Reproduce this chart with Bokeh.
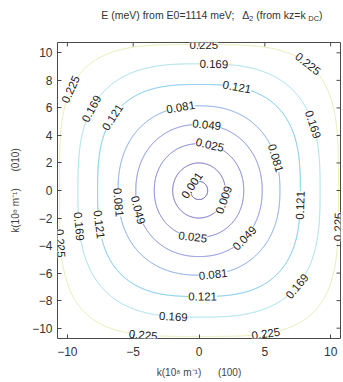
import numpy as np
from bokeh.plotting import figure
from bokeh.layouts import column
from bokeh.models import Range1d, FixedTicker, ColumnDataSource
from bokeh.embed import file_html
from bokeh.resources import INLINE
from bokeh.core.properties import value

# Energy contour levels (meV above E0) and the contour radii (1e8 m^-1)
# along the (100)/(010) axes and along the diagonals
levels = [0.001, 0.009, 0.025, 0.049, 0.081, 0.121, 0.169, 0.225]
r_axis = [0.66, 2.0, 3.4, 4.8, 6.15, 7.7, 9.2, 10.6]
r_diag = [0.66, 2.0, 3.45, 4.9, 6.4, 8.5, 10.2, 12.4]
line_colors = ["#5048b0", "#6058c0", "#6a6ccc", "#7480d8",
               "#74a0e2", "#66c2e8", "#9ce0e6", "#e4eaae"]

# Inline labels: which contour, and polar angle (deg) of the label on it
label_level = [7, 7, 7, 7, 7, 7, 7,
               6, 6, 6, 6, 6, 6,
               5, 5, 5, 5, 5,
               4, 4, 4, 4,
               3, 3, 3,
               2, 2,
               1,
               0]
label_angle = [88, 48, 143, 200, 346, 248, 296,
               83, 144, 29, 196, 258, 317,
               69, 141, 198, 352, 272,
               103, 22, 188, 280,
               83, 315, 197,
               76, 262,
               340,
               145]

x_ticks = [-10, -5, 0, 5, 10]
y_ticks = [-10, -8, -6, -4, -2, 0, 2, 4, 6, 8, 10]
k_lim = 10.75

W, H = 343, 382
TITLE_H = 28
B_LEFT, B_RIGHT, B_TOP, B_BOTTOM = 57, 3, 14, 44
PH = H - TITLE_H
FW, FH = W - B_LEFT - B_RIGHT, PH - B_TOP - B_BOTTOM


def contour_xy(ra, rd, th):
    # superellipse through the axis radius and the diagonal radius
    n = np.log(2.0) / np.log(np.sqrt(2.0) * ra / rd)
    r = ra * (np.abs(np.cos(th)) ** n + np.abs(np.sin(th)) ** n) ** (-1.0 / n)
    return r * np.cos(th), r * np.sin(th)


# ---- title strip (main text plus subscripts) ----
t = figure(width=W, height=TITLE_H, output_backend="svg", toolbar_location=None,
           x_range=Range1d(0, W), y_range=Range1d(TITLE_H, 0),
           min_border=0, outline_line_color=None)
t.axis.visible = False
t.grid.visible = False
t.background_fill_color = "white"
t.border_fill_color = "white"
title_text = ["E (meV) from E0=1114 meV;", "\u0394", "2", "(from kz=k", "DC", ")"]
title_x = [53, 224, 232, 241, 304, 317]
title_y = [14, 14, 18, 14, 18, 14]
title_size = ["10.5px", "10.5px", "7.5px", "10.5px", "7.5px", "10.5px"]
t.text(x="x", y="y", text="s", text_font_size="fs",
       source=ColumnDataSource(dict(x=title_x, y=title_y, s=title_text, fs=title_size)),
       text_font=value("Liberation Sans"), text_color="#333333",
       text_baseline="middle", text_align="left")

# ---- contour plot ----
p = figure(width=W, height=PH, output_backend="svg", toolbar_location=None,
           x_range=Range1d(-k_lim, k_lim), y_range=Range1d(-k_lim, k_lim),
           min_border_left=B_LEFT, min_border_right=B_RIGHT,
           min_border_top=B_TOP, min_border_bottom=B_BOTTOM)
p.background_fill_color = "white"
p.border_fill_color = "white"
p.outline_line_color = "#4a4a4a"
p.outline_line_width = 1
p.grid.visible = False

theta = np.linspace(0, 2 * np.pi, 1441)
xs, ys = [], []
for ra, rd in zip(r_axis, r_diag):
    cx, cy = contour_xy(ra, rd, theta)
    xs.append(cx)
    ys.append(cy)
p.multi_line(xs="xs", ys="ys", line_color="color", line_width=1,
             source=ColumnDataSource(dict(xs=xs, ys=ys, color=line_colors)))

# contour labels placed along the curves, rotated with the local tangent
sx = FW / (2 * k_lim)
sy = FH / (2 * k_lim)
lx, ly, lang, ltxt = [], [], [], []
for li, ad in zip(label_level, label_angle):
    th = np.radians(ad)
    x0, y0 = contour_xy(r_axis[li], r_diag[li], th)
    xa, ya = contour_xy(r_axis[li], r_diag[li], th - 1e-3)
    xb, yb = contour_xy(r_axis[li], r_diag[li], th + 1e-3)
    a = np.arctan2((yb - ya) * sy, (xb - xa) * sx)
    if a > np.pi / 2:
        a -= np.pi
    if a <= -np.pi / 2:
        a += np.pi
    lx.append(float(x0))
    ly.append(float(y0))
    lang.append(float(a))
    ltxt.append(f"{levels[li]:.3f}")

p.text(x="x", y="y", text="t", angle="a",
       source=ColumnDataSource(dict(x=lx, y=ly, t=ltxt, a=lang)),
       text_align="center", text_baseline="middle",
       text_font=value("Liberation Sans"), text_font_size="11.5px",
       text_color="#222222", background_fill_color="white",
       padding=0)

# inward ticks on the top and right edges of the box
p.scatter(x=x_ticks, y=[k_lim] * len(x_ticks), marker="dash", angle=np.pi / 2,
          size=8, line_color="#4a4a4a", line_width=1)
p.scatter(x=[k_lim] * len(y_ticks), y=y_ticks, marker="dash",
          size=8, line_color="#4a4a4a", line_width=1)

for ax in (p.xaxis[0], p.yaxis[0]):
    ax.major_tick_in = 4
    ax.major_tick_out = 0
    ax.minor_tick_line_color = None
    ax.axis_line_color = None
    ax.major_tick_line_color = "#4a4a4a"
    ax.major_label_text_font = "Liberation Sans"
    ax.major_label_text_font_size = "12px"
    ax.major_label_text_color = "#333333"
    ax.axis_label_text_font = "Liberation Sans"
    ax.axis_label_text_font_size = "10px"
    ax.axis_label_text_font_style = "normal"
    ax.axis_label_text_color = "#444444"

p.xaxis[0].ticker = FixedTicker(ticks=x_ticks)
p.yaxis[0].ticker = FixedTicker(ticks=y_ticks)
p.xaxis[0].major_label_standoff = 8
p.yaxis[0].major_label_standoff = 5
p.xaxis[0].axis_label = "k(10\u2078 m\u207b\u00b9)\u00a0\u00a0\u00a0\u00a0\u00a0\u00a0(100)"
p.yaxis[0].axis_label = "k(10\u2078 m\u207b\u00b9)\u00a0\u00a0\u00a0\u00a0\u00a0\u00a0(010)"
p.xaxis[0].axis_label_standoff = 8
p.yaxis[0].axis_label_standoff = 8

layout = column(t, p, spacing=0)
open("out.html", "w").write(file_html(layout, INLINE))
